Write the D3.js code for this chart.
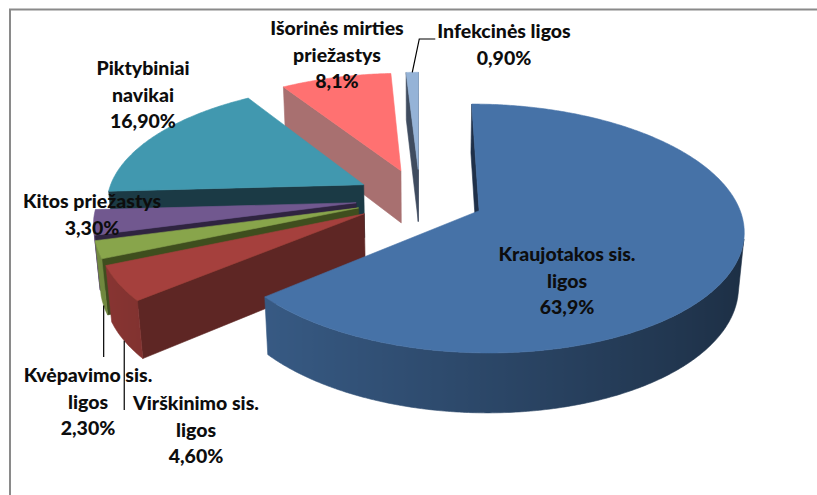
<!DOCTYPE html>
<html>
<head>
<meta charset="utf-8">
<script src="https://cdn.jsdelivr.net/npm/d3@7"></script>
<style>
body { margin: 0; background: #fff; }
text { font-family: Lato, "Open Sans", sans-serif; font-weight: 900; font-size: 19.5px; fill: #0d0d0d; }
</style>
</head>
<body>
<svg id="chart"></svg>
<script>
// mirties priežastys, %
var causes = ['Kraujotakos sis. ligos', 'Virškinimo sis. ligos', 'Kvėpavimo sis. ligos', 'Kitos priežastys',
  'Piktybiniai navikai', 'Išorinės mirties priežastys', 'Infekcinės ligos']
var shares = [63.9, 4.6, 2.3, 3.3, 16.9, 8.1, 0.9]
var shareText = ['63,9%', '4,60%', '2,30%', '3,30%', '16,90%', '8,1%', '0,90%']
var nameLines = [['Kraujotakos sis.', 'ligos'], ['Virškinimo sis.', 'ligos'], ['Kvėpavimo sis.', 'ligos'],
  ['Kitos priežastys'], ['Piktybiniai', 'navikai'], ['Išorinės mirties', 'priežastys'], ['Infekcinės ligos']]

var topColor = ['#4672a7', '#a5403d', '#88a54b', '#71588f', '#4198af', '#ff7171', '#95b3d7']
var sideColor = ['#1f3049', '#5e2624', '#3f4e1e', '#2f2440', '#1b3a45', '#a87070', '#3f4c5f']

// label anchors (centre x, first baseline) and leader style
var labelAt = [[567, 261], [196, 410], [88, 382], [92, 208], [143, 75], [337, 35], [504, 38]]
var leader = [null, 'below', 'below', null, null, null, 'above']
var lineGap = 26.5

var W = 817, H = 495
var svg = d3.select('#chart').attr('width', W).attr('height', H)

svg.append('rect')
  .attr('x', 10).attr('y', 9.5).attr('width', 900).attr('height', 600)
  .attr('fill', 'none').attr('stroke', '#8a8a8a').attr('stroke-width', 2)

// 3d pie projection
var tilt = Math.asin(0.46), camDist = 6.3, focal = 1620, cx = 420, cy = 198
var depth = 0.238, explode = 0.25
var cosT = Math.cos(tilt), sinT = Math.sin(tilt)
var cam = {u: 0, v: -camDist * cosT}

function proj(u, v, z){
  var d = camDist + v * cosT - z * sinT
  return [cx + focal * u / d, cy - focal * (v * sinT + z * cosT) / d]
}

var line = d3.line()
var defs = svg.append('defs')
var pieG = svg.append('g')

var arcs = d3.pie().sort(null).value(function(d){ return d })(shares)

var slices = arcs.map(function(a, i){
  var mid = (a.startAngle + a.endAngle) / 2
  var ox = explode * Math.sin(mid), oy = explode * Math.cos(mid)
  var n = Math.max(2, Math.ceil((a.endAngle - a.startAngle) / 0.01))
  var rim = d3.range(n + 1).map(function(j){
    var t = a.startAngle + (a.endAngle - a.startAngle) * j / n
    return {t: t, u: ox + Math.sin(t), v: oy + Math.cos(t)}
  })
  return {i: i, a0: a.startAngle, a1: a.endAngle, mid: mid, ox: ox, oy: oy, rim: rim,
    near: d3.min([oy].concat(rim.map(function(p){ return p.v })))}
})

function face(pts, fill){
  pieG.append('path').attr('d', line(pts) + 'Z')
    .attr('fill', fill).attr('stroke', fill).attr('stroke-width', 0.6).attr('stroke-linejoin', 'round')
}

function shade(col, k){
  var c = d3.rgb(col)
  return d3.rgb(c.r * k, c.g * k, c.b * k).formatHex()
}

slices.slice().sort(function(a, b){ return b.near - a.near }).forEach(function(s){
  var i = s.i
  var apexT = proj(s.ox, s.oy, 0), apexB = proj(s.ox, s.oy, -depth)
  var r0 = s.rim[0], r1 = s.rim[s.rim.length - 1]

  // radial walls
  var n0 = [-Math.cos(s.a0), Math.sin(s.a0)]
  if (n0[0] * (cam.u - s.ox) + n0[1] * (cam.v - s.oy) > 0)
    face([apexT, proj(r0.u, r0.v, 0), proj(r0.u, r0.v, -depth), apexB], sideColor[i])
  var n1 = [Math.cos(s.a1), -Math.sin(s.a1)]
  if (n1[0] * (cam.u - s.ox) + n1[1] * (cam.v - s.oy) > 0)
    face([apexT, proj(r1.u, r1.v, 0), proj(r1.u, r1.v, -depth), apexB], sideColor[i])

  // outer wall, split into visible runs
  var runs = [], cur = null
  for (var j = 0; j < s.rim.length - 1; j++){
    var tm = (s.rim[j].t + s.rim[j + 1].t) / 2
    var pu = s.ox + Math.sin(tm), pv = s.oy + Math.cos(tm)
    var vis = Math.sin(tm) * (cam.u - pu) + Math.cos(tm) * (cam.v - pv) > 0
    if (vis){
      if (!cur){ cur = [j]; runs.push(cur) }
      cur.push(j + 1)
    } else cur = null
  }
  runs.forEach(function(run, ri){
    var pts = run.map(function(j){ return s.rim[j] })
    var tops = pts.map(function(p){ return proj(p.u, p.v, 0) })
    var bots = pts.map(function(p){ return proj(p.u, p.v, -depth) }).reverse()
    var xs = tops.map(function(p){ return p[0] })
    var x0 = d3.min(xs), x1 = d3.max(xs)
    var id = 'wall' + i + '_' + ri
    var grad = defs.append('linearGradient').attr('id', id)
      .attr('gradientUnits', 'userSpaceOnUse')
      .attr('x1', x0).attr('x2', x1).attr('y1', 0).attr('y2', 0)
    var stops = pts.map(function(p, k){
      return {o: x1 > x0 ? (xs[k] - x0) / (x1 - x0) : 0, c: shade(topColor[i], 0.62 - 0.22 * Math.sin(p.t))}
    }).sort(function(a, b){ return a.o - b.o })
    grad.selectAll('stop').data(stops).enter().append('stop')
      .attr('offset', function(d){ return d.o }).attr('stop-color', function(d){ return d.c })
    pieG.append('path').attr('d', line(tops.concat(bots)) + 'Z')
      .attr('fill', 'url(#' + id + ')').attr('stroke', 'url(#' + id + ')').attr('stroke-width', 0.6)
  })

  // top face
  face([apexT].concat(s.rim.map(function(p){ return proj(p.u, p.v, 0) })), topColor[i])
})

// labels
var labG = svg.append('g')
slices.forEach(function(s){
  var i = s.i, at = labelAt[i]
  var lines = nameLines[i].concat([shareText[i]])
  var t = labG.append('text').attr('text-anchor', 'middle')
  lines.forEach(function(l, k){
    t.append('tspan').attr('x', at[0]).attr('y', at[1] + k * lineGap).text(l)
  })

  var pm = {u: s.ox + Math.sin(s.mid), v: s.oy + Math.cos(s.mid)}
  if (leader[i] == 'below'){
    var p = proj(pm.u, pm.v, -depth)
    var yEnd = i == 1 ? at[1] : at[1] - 25
    labG.append('path').attr('d', line([[p[0], p[1]], [p[0], yEnd]]))
      .attr('stroke', '#000').attr('stroke-width', 1.2).attr('fill', 'none')
  }
  if (leader[i] == 'above'){
    var q = proj(pm.u, pm.v, 0)
    var bb = t.select('tspan').node().getBBox()
    labG.append('path').attr('d', line([[bb.x - 2, at[1] + 1], [q[0] + 7, at[1] + 1], q]))
      .attr('stroke', '#000').attr('stroke-width', 1.2).attr('fill', 'none')
  }
})
</script>
</body>
</html>
